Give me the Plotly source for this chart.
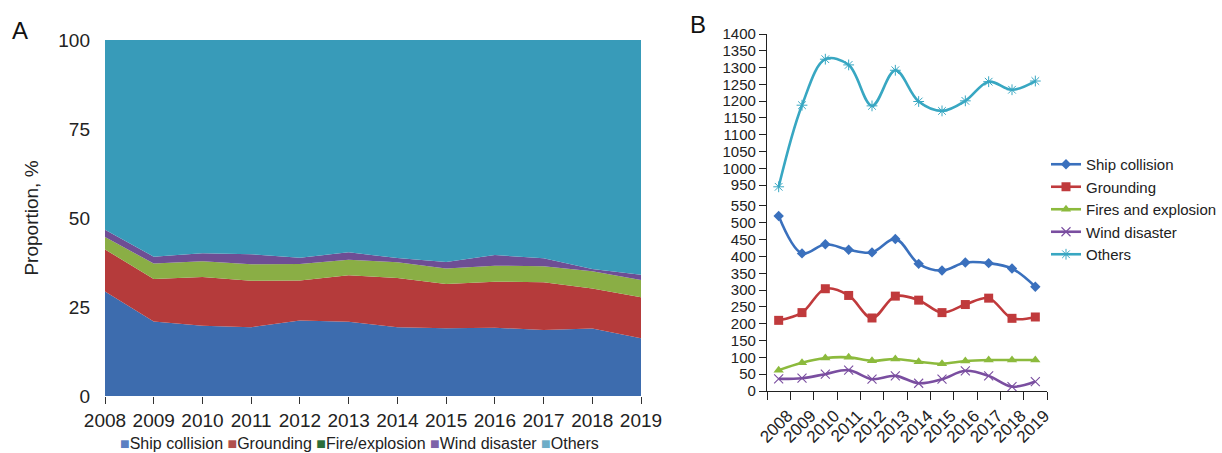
import plotly.graph_objects as go

W, H = 1222, 453

years = [2008, 2009, 2010, 2011, 2012, 2013, 2014, 2015, 2016, 2017, 2018, 2019]
year_labels = [str(y) for y in years]

# Annual accident counts by type
ship_collision = [520, 409, 436, 420, 412, 452, 378, 358, 382, 380, 364, 310]
grounding = [210, 233, 304, 284, 217, 282, 270, 233, 257, 276, 216, 220]
fire_explosion = [62, 84, 98, 100, 90, 95, 87, 81, 89, 92, 92, 92]
wind_disaster = [36, 38, 50, 62, 35, 45, 23, 35, 60, 45, 13, 28]
others = [945, 1188, 1325, 1308, 1186, 1292, 1199, 1171, 1201, 1258, 1234, 1260]

lower_ticks = list(range(0, 551, 50))
upper_ticks = list(range(950, 1401, 50))


def px_x(p):
    return p / W


def px_y(p):
    return 1 - p / H


fig = go.Figure()

# ---- Panel A: stacked area of proportions ----
area_series = [
    ("Ship collision", ship_collision, "#3d6cae"),
    ("Grounding", grounding, "#b53b3b"),
    ("Fire/explosion", fire_explosion, "#8aae45"),
    ("Wind disaster", wind_disaster, "#6e4e94"),
    ("Others", others, "#389bb9"),
]
for name, vals, col in area_series:
    fig.add_trace(go.Scatter(
        x=years, y=vals, name=name, stackgroup="share", groupnorm="percent",
        mode="lines", line=dict(width=0, color=col), fillcolor=col,
        showlegend=False, xaxis="x", yaxis="y", hoverinfo="skip",
    ))

# ---- Panel B: counts per type, smoothed lines on a broken axis ----
line_series = [
    ("Ship collision", ship_collision, "#3a70bd",
     dict(symbol="diamond", size=8, color="#3a70bd")),
    ("Grounding", grounding, "#c03a3c",
     dict(symbol="square", size=9, color="#c03a3c")),
    ("Fires and explosion", fire_explosion, "#8cba3d",
     dict(symbol="triangle-up", size=9, color="#8cba3d")),
    ("Wind disaster", wind_disaster, "#7a4ea0",
     dict(symbol="x-thin-open", size=9, line=dict(color="#b7a3cf", width=1.1))),
    ("Others", others, "#38a7c2",
     dict(symbol="asterisk-open", size=9, line=dict(color="#9ddbe8", width=1.0))),
]
for name, vals, col, mk in line_series:
    axis_y = "y3" if name == "Others" else "y2"
    fig.add_trace(go.Scatter(
        x=year_labels, y=vals, name=name, mode="lines+markers",
        line=dict(color=col, width=2.6, shape="spline", smoothing=1.0),
        marker=mk, xaxis="x2", yaxis=axis_y, cliponaxis=False,
    ))

font_a = "Liberation Sans Narrow, Liberation Sans, Arial, sans-serif"
font_b = "Liberation Sans, Arial, sans-serif"

lower_top = px_y(202.6)

fig.update_layout(
    width=W, height=H,
    margin=dict(l=0, r=0, t=0, b=0),
    paper_bgcolor="white", plot_bgcolor="white",
    xaxis=dict(
        domain=[px_x(105), px_x(641)], range=[2008, 2019],
        tickvals=years, ticktext=year_labels, ticks="outside", ticklen=7,
        tickcolor="#333", showgrid=False, zeroline=False, showline=False,
        tickfont=dict(family=font_a, size=19, color="#222"), anchor="y",
        automargin=False,
    ),
    yaxis=dict(
        domain=[px_y(396), px_y(40)], range=[0, 100],
        tickvals=[0, 25, 50, 75, 100], showgrid=False, zeroline=False,
        showline=False, ticks="", ticklabelstandoff=14,
        tickfont=dict(family=font_a, size=19, color="#222"),
        title=dict(text="Proportion, %", standoff=14,
                   font=dict(family=font_a, size=19, color="#222")),
        anchor="x", automargin=False,
    ),
    xaxis2=dict(
        domain=[px_x(767), px_x(1047)], type="category",
        range=[-0.5, 11.5], tickson="boundaries", ticks="outside", ticklen=8,
        tickcolor="#222", showline=True, linecolor="#222", linewidth=1.3,
        showgrid=False, zeroline=False, tickangle=-45,
        ticklabelstandoff=7, ticklabelshift=9,
        tickfont=dict(family=font_b, size=17, color="#222"), anchor="y2",
        automargin=False,
    ),
    yaxis2=dict(
        domain=[px_y(391), lower_top], range=[0, 560],
        tickvals=lower_ticks, ticks="outside", ticklen=7, tickcolor="#222",
        showline=True, linecolor="#222", linewidth=1.3, showgrid=False,
        zeroline=False, tickfont=dict(family=font_b, size=15, color="#222"),
        anchor="x2", automargin=False,
    ),
    yaxis3=dict(
        domain=[lower_top, px_y(34)], range=[898, 1400],
        tickvals=upper_ticks, ticks="outside", ticklen=7, tickcolor="#222",
        showline=True, linecolor="#222", linewidth=1.3, showgrid=False,
        zeroline=False, tickfont=dict(family=font_b, size=15, color="#222"),
        anchor="x2", automargin=False,
    ),
    legend=dict(
        x=px_x(1046), y=px_y(148), xanchor="left", yanchor="top",
        font=dict(family=font_b, size=15, color="#222"),
        itemwidth=30, tracegroupgap=0, traceorder="normal",
        bgcolor="rgba(0,0,0,0)",
    ),
    showlegend=True,
)

# Panel A legend as coloured squares
legend_a = [
    ("Ship collision", "#5b7fc2"),
    ("Grounding", "#b0504e"),
    ("Fire/explosion", "#2a6d3b"),
    ("Wind disaster", "#7d62a8"),
    ("Others", "#6eadc7"),
]
legend_text = " ".join(
    f'<span style="color:{c}">■</span>{t}' for t, c in legend_a
)
fig.add_annotation(
    text=legend_text, x=px_x(359), y=px_y(443), xref="paper", yref="paper",
    showarrow=False, font=dict(family=font_a, size=16, color="#222"),
    xanchor="center", yanchor="middle",
)

# Panel letters
fig.add_annotation(text="A", x=px_x(10), y=px_y(30), xref="paper", yref="paper",
                   showarrow=False, xanchor="left", yanchor="middle",
                   font=dict(family=font_b, size=24, color="#111"))
fig.add_annotation(text="B", x=px_x(688), y=px_y(25), xref="paper", yref="paper",
                   showarrow=False, xanchor="left", yanchor="middle",
                   font=dict(family=font_b, size=24, color="#111"))

fig.write_html("out.html")
